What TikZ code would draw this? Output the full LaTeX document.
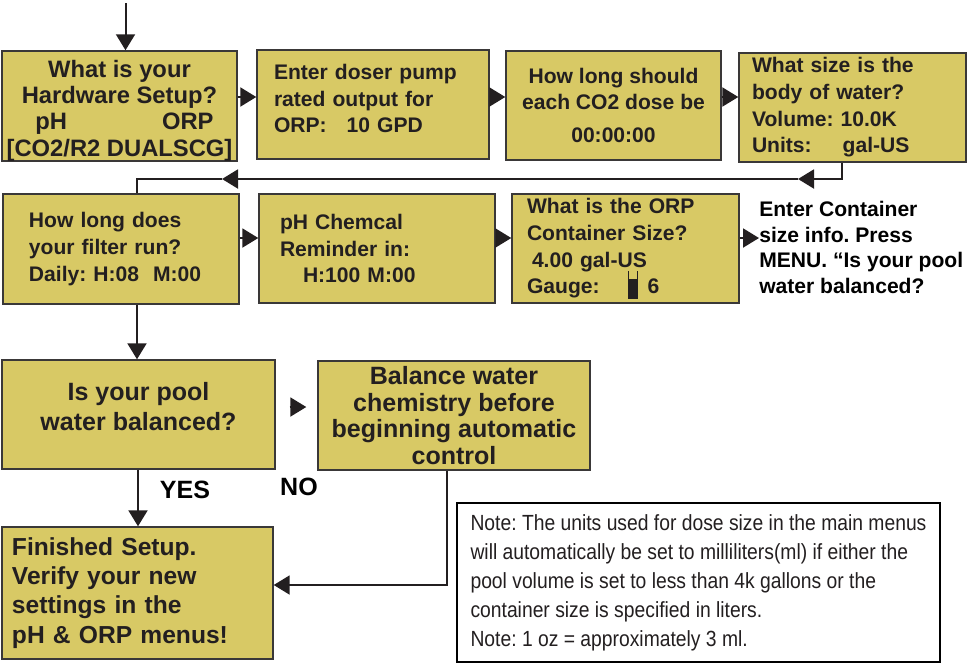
\documentclass[tikz,border=0pt]{standalone}
\usepackage{fontspec}
\setmainfont{Liberation Sans}
\newfontfamily\narrowfont[FakeStretch=0.88]{Liberation Sans}
\usetikzlibrary{arrows.meta,calc}
\frenchspacing

\definecolor{boxfill}{RGB}{216,201,101}
\definecolor{boxline}{RGB}{58,56,56}
\definecolor{ink}{RGB}{35,31,32}

\begin{document}
\begin{tikzpicture}[x=0.25mm, y=-0.25mm,
  box/.style={draw=boxline, fill=boxfill, line width=0.35mm, inner sep=0pt,
    text=ink, font=\bfseries\fontsize{15pt}{19pt}\selectfont},
  flow/.style={draw=ink, line width=0.5mm},
  arr/.style={flow, -{Triangle[length=4mm, width=4.75mm]}},
  answer/.style={font=\bfseries\fontsize{17.8pt}{20pt}\selectfont},
]
  \useasboundingbox (0,0) rectangle (970,668);

  % first row
  \node[box, minimum width=58.75mm, minimum height=27mm, align=center,
    font=\bfseries\fontsize{16.9pt}{18.7pt}\selectfont] (A) at (119.5,106)
    {\mbox{}\\What is your\\Hardware Setup?\\\hspace*{2.5mm}pH\hspace{23.75mm}ORP\\{}[CO2/R2 DUALSCG]};
  \node[box, minimum width=58mm, minimum height=27.25mm, text width=49.5mm, align=left] (B) at (373,104.5)
    {Enter doser pump\\rated output for\\ORP:\hspace{5mm}10 GPD\\[-10.5pt]\mbox{}};
  \node[box, minimum width=53.75mm, minimum height=27.25mm, align=center] (C) at (613.5,105.5)
    {How long should\\each CO2 dose be\\[4.5pt]00:00:00};
  \node[box, minimum width=56.75mm, minimum height=27.25mm, text width=50.25mm, align=left] (D) at (852.5,107.5)
    {What size is the\\body of water?\\Volume: 10.0K\\Units:\hspace{7.75mm}gal-US};

  % second row
  \node[box, minimum width=59mm, minimum height=27.5mm, text width=46mm, align=left] (E) at (121,249)
    {How long does\\your filter run?\\Daily: H:08\hspace{3.5mm}M:00};
  \node[box, minimum width=59mm, minimum height=27.25mm, text width=48.5mm, align=left] (F) at (377,248.5)
    {pH Chemcal\\Reminder in:\\\hspace*{5.75mm}H:100 M:00};
  \node[box, minimum width=56.75mm, minimum height=27.25mm, text width=49.25mm, align=left] (G) at (625.5,248.5)
    {What is the ORP\\Container Size?\\\hspace*{1.25mm}4.00 gal-US\\Gauge:\hspace{12mm}6};
  \node[anchor=west, align=left, inner sep=0pt, text=black,
    font=\bfseries\fontsize{15pt}{18.3pt}\selectfont] (H) at (759,247.5)
    {Enter Container\\size info. Press\\MENU. “Is your pool\\water balanced?};

  % gauge symbol
  \fill[ink] ($(G.south west)+(117,-5)$) rectangle ++(9,-20);
  \draw[ink, line width=0.2mm] ($(G.south west)+(117,-5)$) -- ++(0,-28)
    ($(G.south west)+(126,-5)$) -- ++(0,-28);

  % third row and end
  \node[box, minimum width=68.25mm, minimum height=27.25mm, align=center,
    font=\bfseries\fontsize{17.8pt}{21.3pt}\selectfont] (I) at (138.5,414.5)
    {Is your pool\\water balanced?\\[-9.9pt]\mbox{}};
  \node[box, minimum width=68mm, minimum height=27.25mm, align=center,
    font=\bfseries\fontsize{17.8pt}{18.85pt}\selectfont] (J) at (454,415.5)
    {Balance water\\chemistry before\\beginning automatic\\control};
  \node[box, minimum width=67.75mm, minimum height=33mm, text width=62.75mm, align=left,
    font=\bfseries\fontsize{17.5pt}{20.8pt}\selectfont] (K) at (137.5,593)
    {Finished Setup.\\Verify your new\\settings in the\\pH \& ORP menus!};
  \node[draw=black, fill=white, line width=0.5mm, minimum width=120.75mm, minimum height=39.75mm,
    align=left, text=ink, font=\narrowfont\fontsize{15.6pt}{20.6pt}\selectfont] (note) at (698.5,582.5)
    {Note: The units used for dose size in the main menus\\will automatically be set to milliliters(ml) if either the\\pool volume is set to less than 4k gallons or the\\container size is specified in liters.\\Note: 1 oz = approximately 3 ml.};
  \node[answer] (yes) at (185,490) {YES};
  \node[answer] (no) at (299,487) {NO};

  % connectors
  \coordinate (start) at (125.5,3);
  \coordinate (t1) at (798,179);
  \coordinate (t2) at (222,179);
  \draw[arr] (start) -- (start |- A.north);
  \draw[arr] (A.east |- 0,97) -- (B.west |- 0,97);
  \draw[arr] (B.east |- 0,97) -- (C.west |- 0,97);
  \draw[arr] (C.east |- 0,97) -- (D.west |- 0,97);
  \draw[arr] (D.south -| 842,0) |- (t1);
  \draw[arr] (t1) -- (t2);
  \draw[flow] (t2) -| (E.north -| 137,0);
  \draw[arr] (E.east |- 0,238) -- (F.west |- 0,238);
  \draw[arr] (F.east |- 0,238) -- (G.west |- 0,238);
  \draw[arr] (G.east |- 0,238) -- (H.west |- 0,238);
  \draw[arr] (E.south -| 137,0) -- (I.north -| 137,0);
  \draw[arr, shorten <=3.5mm, shorten >=2.75mm] (I.east |- 0,407) -- (J.west |- 0,407);
  \draw[arr] (I.south -| 138,0) -- (K.north -| 138,0);
  \draw[arr] (J.south -| 447,0) |- (K.east |- 0,585);
\end{tikzpicture}
\end{document}
